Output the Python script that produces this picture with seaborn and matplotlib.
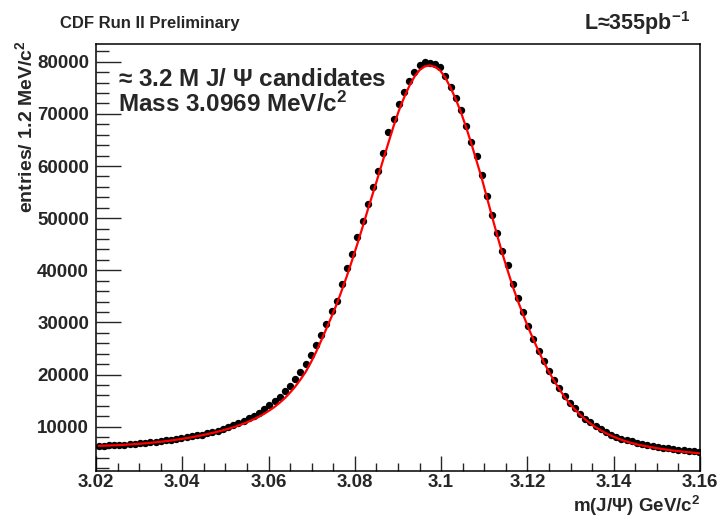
#Import helpful toolboxes etc
import numpy as np
import pandas as pd
import matplotlib
matplotlib.use('Agg')
import matplotlib.pyplot as plt
import seaborn as sns
from matplotlib.ticker import MultipleLocator

#bin centres of the J/psi mass histogram (1.2 MeV bins)
mass = np.round(3.0206 + 0.0012 * np.arange(117), 4)

#entries per bin
entries = [6330, 6370, 6390, 6440, 6490, 6570, 6645, 6720, 6800, 6900,
           7010, 7140, 7265, 7370, 7480, 7640, 7800, 7980, 8150, 8310,
           8490, 8730, 8975, 9230, 9530, 9870, 10260, 10660, 11120, 11580,
           12130, 12690, 13390, 14120, 14940, 15750, 16780, 17730, 19080, 20420,
           22040, 23700, 25620, 27500, 29600, 32230, 34080, 37450, 40380, 43090,
           46420, 49500, 52680, 56000, 59070, 62500, 66550, 69030, 71870, 74200,
           76250, 78050, 79300, 79870, 79750, 79530, 79050, 77330, 75200, 73120,
           70750, 67750, 64600, 61950, 58180, 54230, 50690, 47130, 43640, 40930,
           37400, 34590, 32080, 29250, 26760, 24520, 22540, 20650, 18920, 17350,
           15970, 14540, 13530, 12460, 11560, 10830, 10170, 9550, 8950, 8490,
           8100, 7730, 7450, 7170, 6930, 6710, 6480, 6300, 6130, 5980,
           5840, 5710, 5600, 5480, 5370, 5280, 5200]

#fit curve values at the same bin centres
fit = [6330, 6360, 6390, 6430, 6470, 6530, 6590, 6660, 6730, 6810,
       6900, 7000, 7110, 7230, 7350, 7490, 7640, 7800, 7970, 8160,
       8360, 8570, 8800, 9040, 9300, 9580, 9880, 10220, 10580, 10990,
       11430, 11930, 12480, 13110, 13800, 14600, 15500, 16550, 17700, 19050,
       20500, 22300, 24300, 26500, 28800, 31100, 33500, 36200, 39000, 42000,
       45100, 48300, 51600, 54800, 58000, 61300, 64500, 67700, 70600, 73100,
       75300, 77100, 78400, 79100, 79300, 79000, 78300, 76900, 75000, 72800,
       70300, 67400, 64300, 61000, 57700, 54000, 50300, 46700, 43200, 40000,
       36900, 34100, 31500, 29000, 26700, 24500, 22400, 20500, 18800, 17200,
       15700, 14400, 13300, 12300, 11400, 10600, 9900, 9300, 8750, 8280,
       7850, 7480, 7150, 6860, 6600, 6390, 6200, 6020, 5850, 5700,
       5550, 5420, 5300, 5200, 5100, 5000, 4900]

data = pd.DataFrame({'mass': mass, 'entries': entries, 'fit': fit})

#style - ROOT-like look
sns.set_style("white")
plt.rcParams['font.family'] = ['Liberation Sans', 'DejaVu Sans']
plt.rcParams['font.weight'] = 'bold'
plt.rcParams['mathtext.fontset'] = 'custom'
plt.rcParams['mathtext.rm'] = 'Liberation Sans:bold'
plt.rcParams['mathtext.it'] = 'Liberation Sans:bold'
plt.rcParams['mathtext.bf'] = 'Liberation Sans:bold'
plt.rcParams['mathtext.default'] = 'rm'

fig = plt.figure(figsize=(7.2, 5.19), dpi=100)
ax = fig.add_axes([0.1333, 0.0925, 0.8389, 0.8227])

#data points and fit
sns.lineplot(x='mass', y='fit', data=data, color='red', linewidth=1.6, ax=ax, zorder=3)
sns.scatterplot(x='mass', y='entries', data=data, color='black', s=28,
                edgecolor='black', linewidth=0, ax=ax, zorder=2)

ax.set_xlim(3.02, 3.16)
ax.set_ylim(1500, 83400)

#ticks
ax.xaxis.set_major_locator(MultipleLocator(0.02))
ax.xaxis.set_minor_locator(MultipleLocator(0.005))
ax.yaxis.set_major_locator(MultipleLocator(10000))
ax.yaxis.set_minor_locator(MultipleLocator(2000))
ax.xaxis.set_major_formatter(plt.FuncFormatter(lambda v, p: '{:g}'.format(round(v, 3))))
ax.tick_params(axis='x', which='major', direction='in', length=11, width=1,
               labelsize=13.5, pad=2, top=False)
ax.tick_params(axis='x', which='minor', direction='in', length=6, width=1, top=False)
ax.tick_params(axis='y', which='major', direction='in', length=18, width=1,
               labelsize=13.5, pad=5, right=False)
ax.tick_params(axis='y', which='minor', direction='in', length=9, width=1, right=False)
ax.tick_params(which='both', bottom=True, left=True)
for lab in ax.get_xticklabels() + ax.get_yticklabels():
    lab.set_fontweight('bold')

for sp in ax.spines.values():
    sp.set_color('black')
    sp.set_linewidth(1.1)

#axis labels
ax.set_xlabel('')
ax.set_ylabel('')
fig.text(0.9722, 0.014, r'm(J/$\Psi$) GeV/c$^{2}$', ha='right', va='baseline',
         fontsize=13.5, fontweight='bold')
fig.text(0.035, 0.923, r'entries/ 1.2 MeV/c$^{2}$', ha='center', va='top',
         rotation=90, fontsize=14, fontweight='bold')

#header text
fig.text(0.083, 0.946, 'CDF Run II Preliminary', ha='left', va='baseline',
         fontsize=12, fontweight='bold')
fig.text(0.958, 0.942, r'L≈355pb$^{-1}$', ha='right', va='baseline',
         fontsize=15.5, fontweight='bold')

#annotation inside the frame
ax.text(0.036, 0.9016, r'≈ 3.2 M J/ $\Psi$ candidates', transform=ax.transAxes,
        ha='left', va='baseline', fontsize=17.5, fontweight='bold')
ax.text(0.036, 0.8407, r'Mass 3.0969 MeV/c$^{2}$', transform=ax.transAxes,
        ha='left', va='baseline', fontsize=17.5, fontweight='bold')

#final plotting & saving
plt.savefig('out.png', dpi=100)
